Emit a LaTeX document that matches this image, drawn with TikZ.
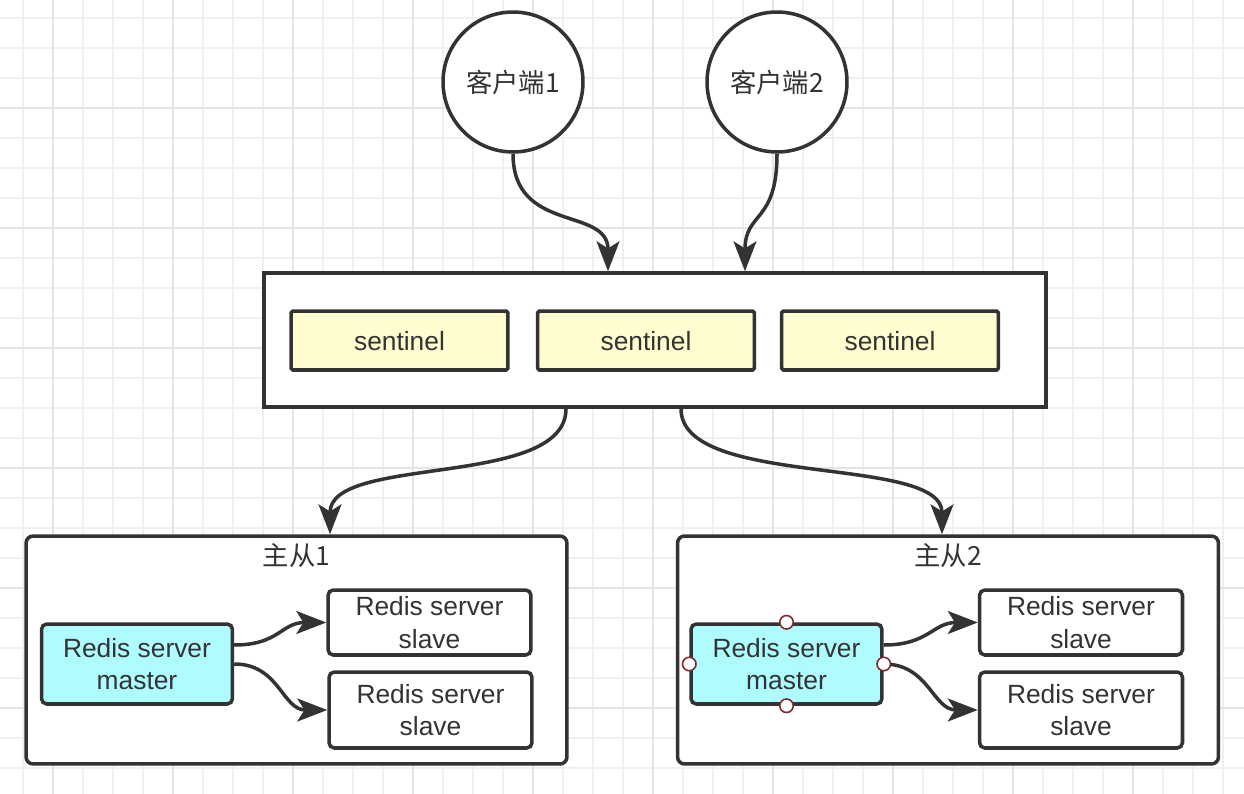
\documentclass[tikz,border=0pt]{standalone}
\usepackage{fontspec}
\setmainfont{Liberation Sans}
\newfontfamily\cjk{Noto Sans CJK SC}
\usepackage{xcolor}
\usetikzlibrary{arrows.meta}
\definecolor{LineGray}{RGB}{51,51,51}
\definecolor{GridMinor}{RGB}{240,240,240}
\definecolor{GridMajor}{RGB}{228,228,228}
\definecolor{SentYellow}{RGB}{255,253,208}
\definecolor{MasterCyan}{RGB}{175,252,255}
\definecolor{HandleRed}{RGB}{130,40,40}

\begin{document}
\begin{tikzpicture}[
  x=0.02cm, y=-0.02cm,
  font=\fontsize{15}{18.5}\selectfont, text=LineGray,
  client/.style={circle, draw=LineGray, line width=2pt, fill=white, minimum size=2.8cm, inner sep=0pt},
  holder/.style={draw=LineGray, line width=2pt, fill=white, minimum width=15.64cm, minimum height=2.68cm},
  sentinel/.style={draw=LineGray, line width=2pt, fill=SentYellow, rounded corners=1pt, minimum width=4.34cm, minimum height=1.18cm, text depth=0pt},
  group/.style={draw=LineGray, line width=2pt, fill=white, rounded corners=4pt, minimum width=10.82cm, minimum height=4.56cm},
  master/.style={draw=LineGray, line width=2pt, fill=MasterCyan, rounded corners=3pt, minimum width=3.82cm, minimum height=1.6cm, align=center, inner sep=2pt},
  slave/.style={draw=LineGray, line width=2pt, fill=white, rounded corners=3pt, minimum width=4.06cm, minimum height=1.3cm, align=center, inner sep=2pt},
  handle/.style={circle, draw=HandleRed, line width=0.9pt, fill=white, minimum size=0.27cm, inner sep=0pt},
  link/.style={-{Stealth[length=17pt, width=13pt, inset=4pt]}, line width=2pt, draw=LineGray}
]
\useasboundingbox (0,0) rectangle (1244,794);
\fill[white] (0,0) rectangle (1244,794);

% background grid
\foreach \gx in {23,53,...,1243} \draw[GridMinor, line width=0.6pt] (\gx,0) -- (\gx,794);
\foreach \gy in {18,48,...,788} \draw[GridMinor, line width=0.6pt] (0,\gy) -- (1244,\gy);
\foreach \gx in {53,173,...,1243} \draw[GridMajor, line width=0.6pt] (\gx,0) -- (\gx,794);
\foreach \gy in {108,228,...,788} \draw[GridMajor, line width=0.6pt] (0,\gy) -- (1244,\gy);

% clients
\node[client] (cl1) at (513,82) {\cjk 客户端1};
\node[client] (cl2) at (777,82) {\cjk 客户端2};

% sentinel cluster
\node[holder] (senbox) at (655,340) {};
\node[sentinel] (sen1) at (399.5,340.5) {sentinel};
\node[sentinel] (sen2) at (646,340.5) {sentinel};
\node[sentinel] (sen3) at (890,340.5) {sentinel};

% master/slave groups
\node[group] (g1) at (296.5,650) {};
\node[group] (g2) at (948,650) {};
\node (t1) at (296.5,556) {\cjk 主从1};
\node (t2) at (948,556) {\cjk 主从2};

\node[master] (m1) at (137,664) {Redis server\\master};
\node[slave] (s1a) at (429.5,622.5) {Redis server\\slave};
\node[slave, minimum height=1.52cm] (s1b) at (430.5,710) {Redis server\\slave};

\node[master] (m2) at (786.5,664) {Redis server\\master};
\node[slave] (s2a) at (1081,622.5) {Redis server\\slave};
\node[slave, minimum height=1.52cm] (s2b) at (1081,710) {Redis server\\slave};

% clients -> sentinels
\draw[link] (cl1.south) .. controls +(0,80) and +(0,-65) .. ([xshift=-0.94cm]senbox.north);
\draw[link] (cl2.south) .. controls +(0,70) and +(0,-60) .. ([xshift=1.8cm]senbox.north);

% sentinels -> groups
\draw[link] ([xshift=-1.78cm]senbox.south) .. controls +(0,80) and +(0,-80) .. ([xshift=0.67cm]g1.north);
\draw[link] ([xshift=0.52cm]senbox.south) .. controls +(0,80) and +(0,-80) .. ([xshift=-0.12cm]g2.north);

% master -> slaves
\draw[link] ([yshift=0.38cm]m1.east) .. controls +(45,0) and +(-45,0) .. (s1a.west);
\draw[link] (m1.east) .. controls +(45,0) and +(-45,0) .. (s1b.west);
\draw[link] ([yshift=0.38cm]m2.east) .. controls +(45,0) and +(-45,0) .. (s2a.west);
\draw[link] (m2.east) .. controls +(45,0) and +(-45,0) .. (s2b.west);

% selection handles
\node[handle] (h1) at (m2.north) {};
\node[handle] (h2) at (m2.west) {};
\node[handle] (h3) at (m2.east) {};
\node[handle] (h4) at (m2.south) {};
\end{tikzpicture}
\end{document}
